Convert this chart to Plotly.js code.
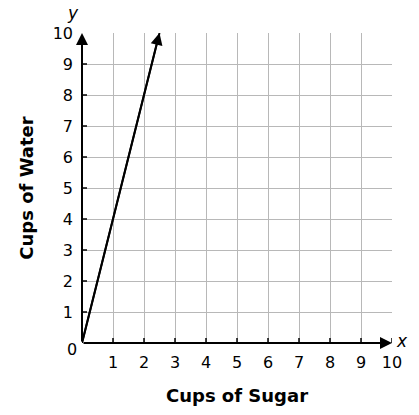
<!DOCTYPE html>
<html><head><meta charset="utf-8">
<script src="https://cdn.plot.ly/plotly-3.0.1.min.js"></script>
<style>html,body{margin:0;padding:0;background:#fff}</style>
</head><body>
<div id="chart" style="width:419px;height:415px"></div>
<script>
// Data
const sugar = [0, 2.5];
const water = [0, 10];
const xTicks = [1, 2, 3, 4, 5, 6, 7, 8, 9, 10];
const yTicks = [1, 2, 3, 4, 5, 6, 7, 8, 9, 10];
const xTitle = "Cups of Sugar";
const yTitle = "Cups of Water";

const FONT = "DejaVu Sans, Verdana, sans-serif";

const shapes = [];
xTicks.forEach(v => shapes.push({type:'line', xref:'x', yref:'y', x0:v, x1:v,
  ysizemode:'pixel', yanchor:0, y0:-5, y1:5, line:{color:'#000', width:1.5}}));
yTicks.slice(0, 9).forEach(v => shapes.push({type:'line', xref:'x', yref:'y', y0:v, y1:v,
  xsizemode:'pixel', xanchor:0, x0:-5, x1:5, line:{color:'#000', width:1.5}}));

const annotations = [
  // y axis with arrow
  {x:0, y:10, ax:0, ay:0, xref:'x', yref:'y', axref:'x', ayref:'y', showarrow:true,
   arrowhead:2, arrowsize:1.2, arrowwidth:2, arrowcolor:'#000', standoff:0, startstandoff:0, text:''},
  // x axis with arrow
  {x:10, y:0, ax:0, ay:0, xref:'x', yref:'y', axref:'x', ayref:'y', showarrow:true,
   arrowhead:2, arrowsize:1.2, arrowwidth:2, arrowcolor:'#000', standoff:0, startstandoff:0, text:''},
  // data line arrow head
  {x:sugar[1], y:water[1], ax:sugar[0], ay:water[0], xref:'x', yref:'y', axref:'x', ayref:'y', showarrow:true,
   arrowhead:2, arrowsize:1.2, arrowwidth:2, arrowcolor:'#000', standoff:0, startstandoff:0, text:''},
  {x:0, y:0, xref:'x', yref:'y', text:'0', showarrow:false, xanchor:'right', yanchor:'middle',
   xshift:-3, yshift:-6, font:{family:FONT, size:16, color:'#000'}},
  {x:0, y:10, xref:'x', yref:'y', text:'<i>y</i>', showarrow:false, xanchor:'center', yanchor:'bottom',
   xshift:-9, yshift:8, font:{family:FONT, size:17, color:'#000'}},
  {x:10, y:0, xref:'x', yref:'y', text:'<i>x</i>', showarrow:false, xanchor:'left', yanchor:'middle',
   xshift:2, yshift:2, font:{family:FONT, size:17, color:'#000'}}
];

const trace = {x:sugar, y:water, type:'scatter', mode:'lines',
  line:{color:'#000', width:2}, hoverinfo:'skip', cliponaxis:false};

const layout = {
  width:419, height:415,
  margin:{l:82, r:27, t:33, b:72, pad:0},
  paper_bgcolor:'#fff', plot_bgcolor:'#fff',
  showlegend:false,
  font:{family:FONT, size:16, color:'#000'},
  xaxis:{range:[0,10], tickvals:xTicks, ticktext:xTicks.map(String), ticks:'',
    showgrid:true, gridcolor:'#b8b8b8', gridwidth:1, zeroline:false, showline:false,
    ticklabelstandoff:8, tickfont:{family:FONT, size:16, color:'#000'},
    title:{text:'<b>'+xTitle+'</b>', font:{family:FONT, size:18, color:'#000'}, standoff:18},
    fixedrange:true},
  yaxis:{range:[0,10], tickvals:yTicks, ticktext:yTicks.map(String), ticks:'',
    showgrid:true, gridcolor:'#b8b8b8', gridwidth:1, zeroline:false, showline:false,
    ticklabelstandoff:8, tickfont:{family:FONT, size:16, color:'#000'},
    title:{text:'<b>'+yTitle+'</b>', font:{family:FONT, size:18, color:'#000'}, standoff:14},
    fixedrange:true},
  shapes:shapes,
  annotations:annotations
};

Plotly.newPlot('chart', [trace], layout, {displayModeBar:false, staticPlot:true});
</script>
</body></html>
